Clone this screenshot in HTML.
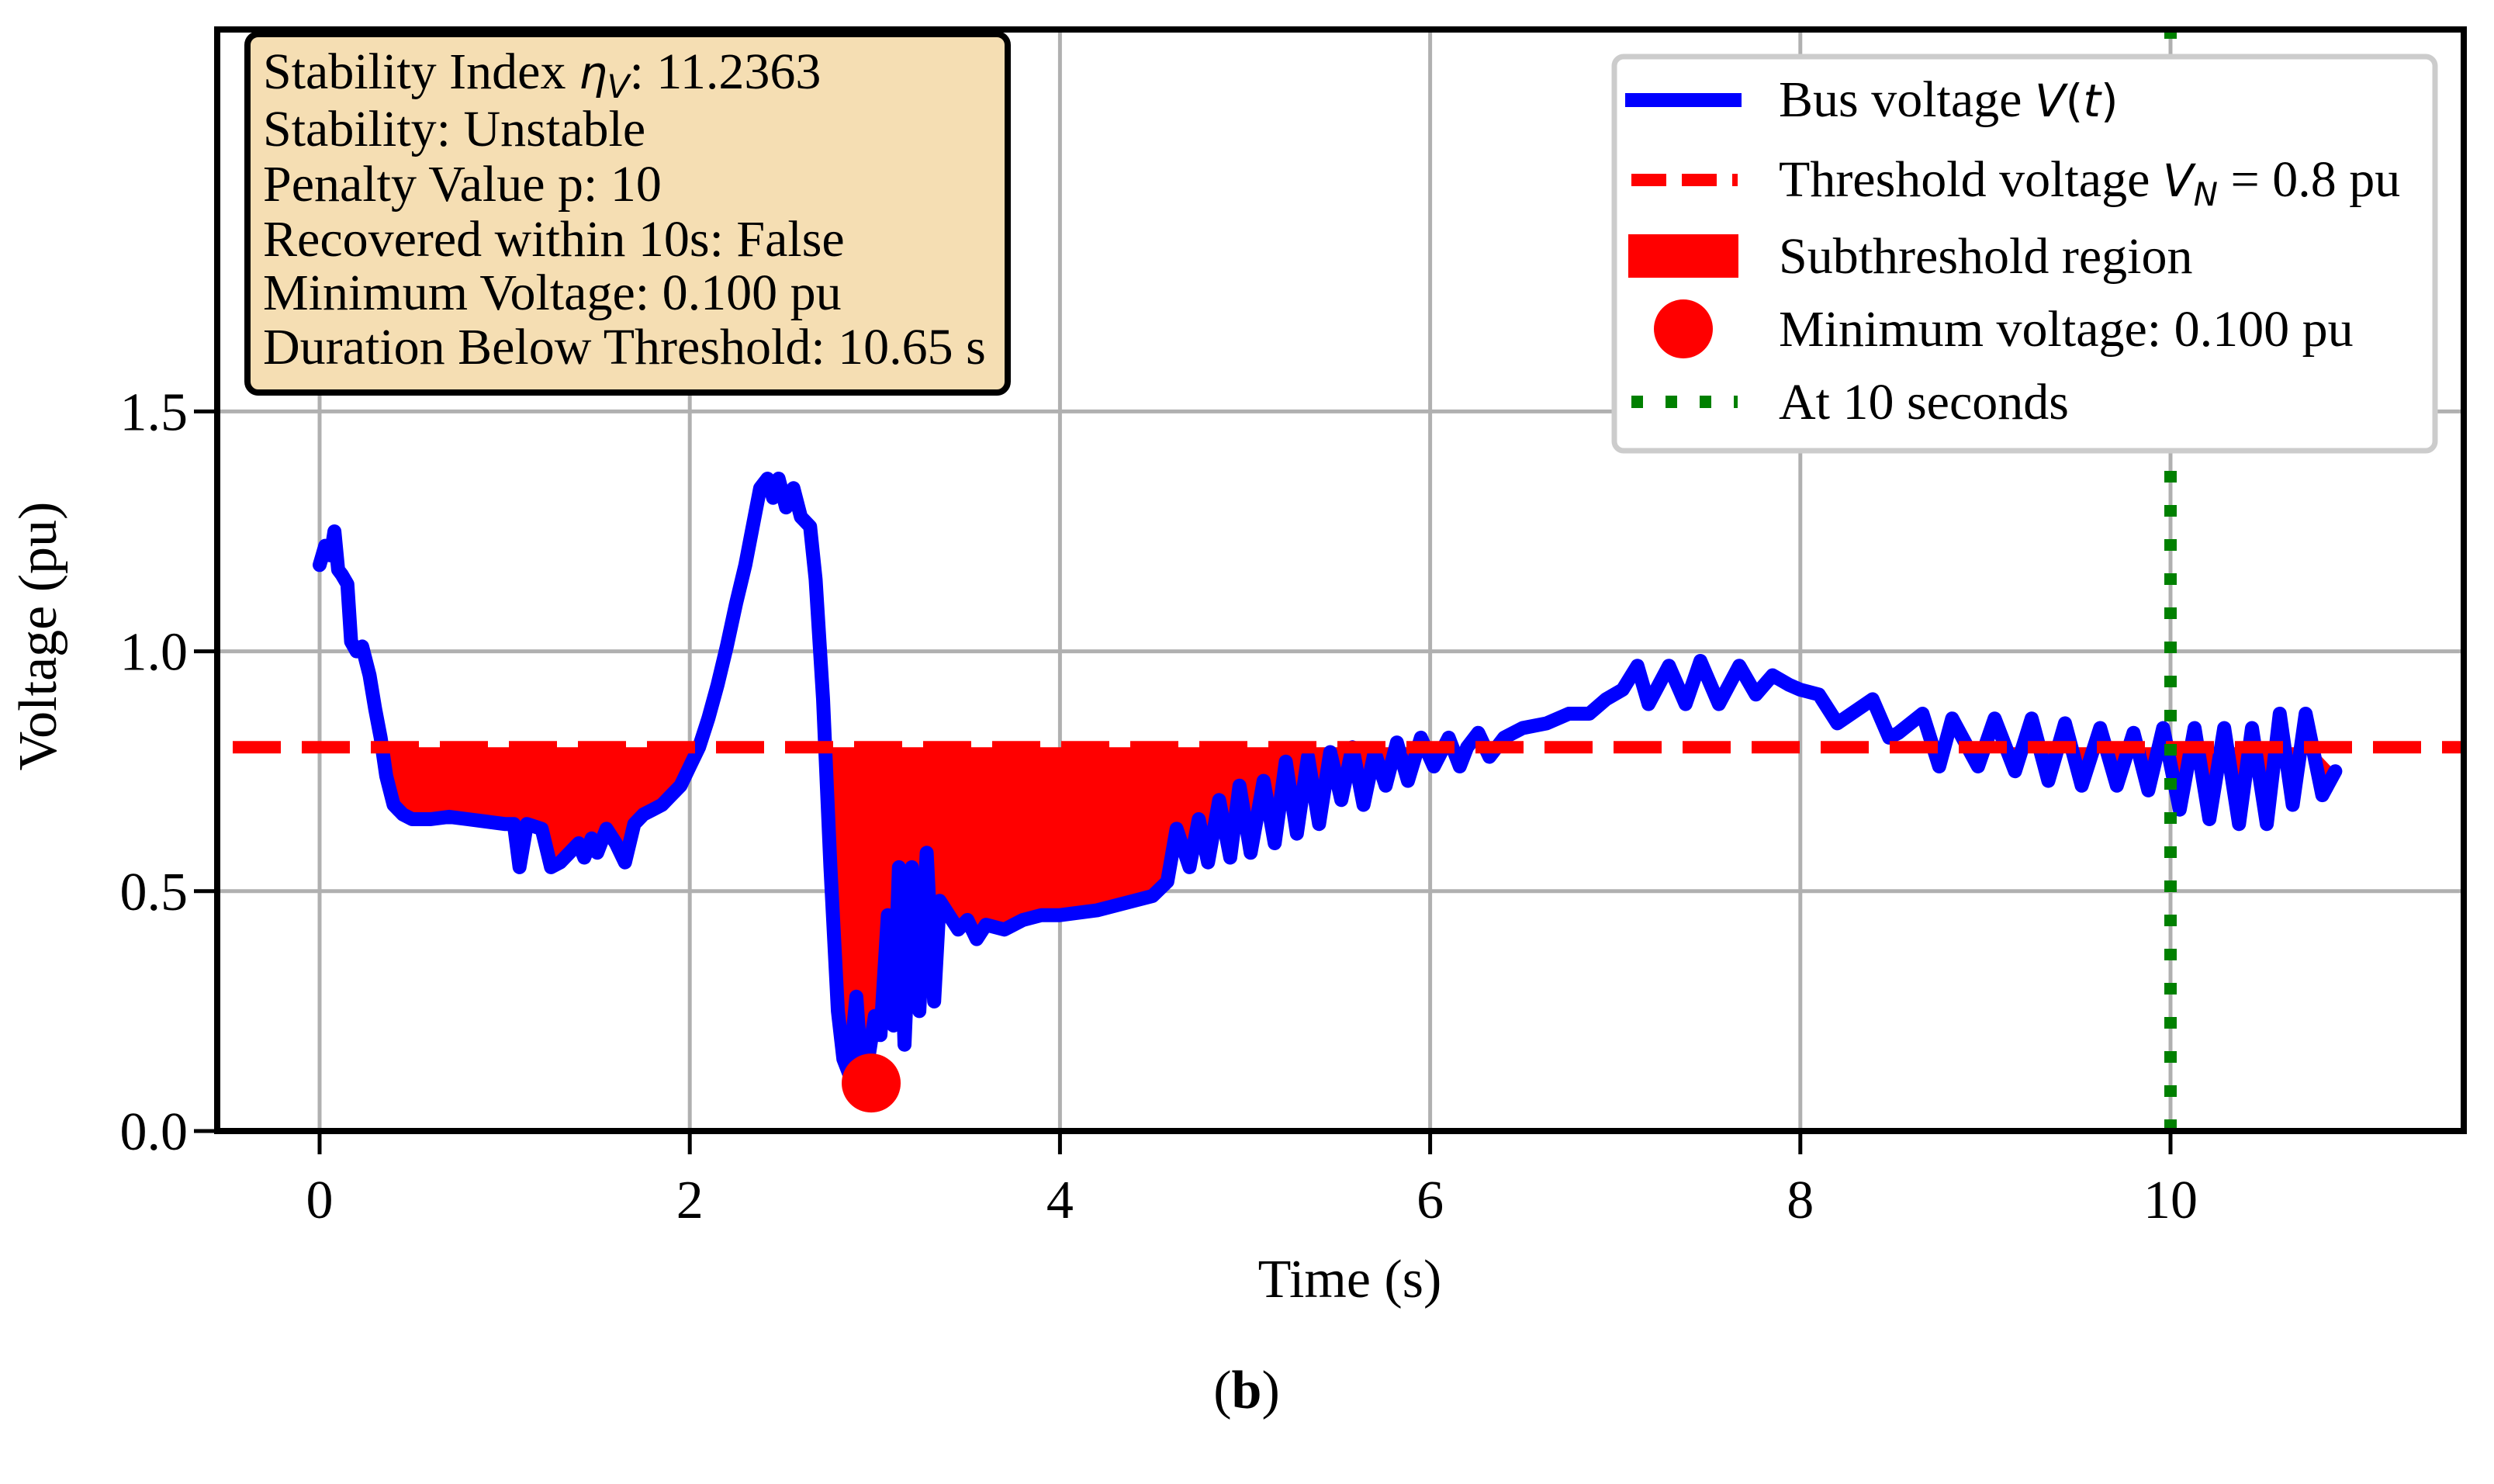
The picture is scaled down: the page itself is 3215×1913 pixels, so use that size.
<!DOCTYPE html>
<html><head><meta charset="utf-8"><style>
html,body{margin:0;padding:0;background:#fff;}
svg{display:block;font-family:"Liberation Serif",serif;}
</style></head><body>
<svg id="chart" width="3215" height="1913" viewBox="0 0 3215 1913" xmlns="http://www.w3.org/2000/svg">
<defs><clipPath id="plotclip"><rect x="280" y="38" width="2896" height="1420"/></clipPath></defs>
<g id="grid"></g>
<g id="marks" clip-path="url(#plotclip)"></g>
<g id="axes"></g>
<text x="1740" y="1672" font-size="70" text-anchor="middle">Time (s)</text>
<text x="0" y="0" font-size="70" text-anchor="middle" transform="translate(72,820) rotate(-90)">Voltage (pu)</text>
<text x="1607" y="1815" font-size="70" text-anchor="middle">(<tspan font-weight="bold">b</tspan>)</text>
<g>
<rect x="319" y="44" width="980" height="462" rx="14" fill="#f5deb3" stroke="#000" stroke-width="8"/>
<g font-size="66">
<text x="339" y="114">Stability Index <tspan font-family="DejaVu Sans" font-style="italic" font-size="58">η</tspan><tspan font-family="DejaVu Sans" font-style="italic" font-size="42" dy="12">V</tspan><tspan dy="-12">: 11.2363</tspan></text>
<text x="339" y="188">Stability: Unstable</text>
<text x="339" y="259">Penalty Value p: 10</text>
<text x="339" y="330">Recovered within 10s: False</text>
<text x="339" y="399">Minimum Voltage: 0.100 pu</text>
<text x="339" y="469">Duration Below Threshold: 10.65 s</text>
</g></g>
<g>
<rect x="2081" y="73" width="1058" height="508" rx="12" fill="#fff" stroke="#cccccc" stroke-width="7"/>
<line x1="2095" y1="129" x2="2245" y2="129" stroke="#0000ff" stroke-width="18"/>
<line x1="2103" y1="232" x2="2240" y2="232" stroke="#ff0000" stroke-width="16" stroke-dasharray="45 20"/>
<rect x="2099" y="302" width="142" height="56" fill="#ff0000"/>
<circle cx="2170" cy="424" r="38" fill="#ff0000"/>
<line x1="2103" y1="518" x2="2240" y2="518" stroke="#008000" stroke-width="16" stroke-dasharray="15 29"/>
<g font-size="66">
<text x="2293" y="150">Bus voltage <tspan font-family="DejaVu Sans" font-style="italic" font-size="58">V</tspan><tspan font-family="DejaVu Sans" font-size="58">(</tspan><tspan font-family="DejaVu Sans" font-style="italic" font-size="58">t</tspan><tspan font-family="DejaVu Sans" font-size="58">)</tspan></text>
<text x="2293" y="253">Threshold voltage <tspan font-family="DejaVu Sans" font-style="italic" font-size="58">V</tspan><tspan font-family="DejaVu Sans" font-style="italic" font-size="42" dy="12">N</tspan><tspan dy="-12"> = 0.8 pu</tspan></text>
<text x="2293" y="352">Subthreshold region</text>
<text x="2293" y="446">Minimum voltage: 0.100 pu</text>
<text x="2293" y="540">At 10 seconds</text>
</g></g>
<script>
const timeValues = [0,0.03,0.06,0.08,0.1,0.12,0.15,0.17,0.2,0.23,0.27,0.3,0.33,0.36,0.4,0.45,0.5,0.6,0.7,0.8,0.9,1.0,1.05,1.08,1.12,1.2,1.25,1.3,1.35,1.4,1.43,1.47,1.5,1.55,1.6,1.65,1.7,1.75,1.8,1.85,1.9,1.95,2.0,2.05,2.1,2.15,2.2,2.25,2.3,2.35,2.38,2.42,2.45,2.48,2.52,2.56,2.6,2.65,2.68,2.72,2.76,2.8,2.83,2.86,2.9,2.93,2.96,3.0,3.03,3.07,3.1,3.13,3.16,3.2,3.24,3.28,3.32,3.35,3.4,3.45,3.5,3.55,3.6,3.7,3.8,3.9,4.0,4.2,4.4,4.5,4.58,4.63,4.7,4.75,4.8,4.86,4.92,4.97,5.03,5.1,5.16,5.22,5.28,5.34,5.4,5.46,5.52,5.58,5.64,5.7,5.76,5.82,5.88,5.95,6.02,6.1,6.16,6.2,6.26,6.32,6.4,6.5,6.63,6.75,6.86,6.95,7.04,7.12,7.18,7.29,7.38,7.46,7.56,7.67,7.76,7.85,7.94,8.0,8.1,8.2,8.39,8.48,8.53,8.66,8.75,8.82,8.96,9.05,9.16,9.25,9.34,9.43,9.52,9.62,9.71,9.8,9.88,9.96,10.05,10.13,10.21,10.29,10.37,10.44,10.52,10.59,10.66,10.73,10.82,10.89,10.97,11.0];
const voltageValues = [1.18,1.22,1.20,1.25,1.17,1.16,1.14,1.02,1.00,1.01,0.95,0.88,0.82,0.74,0.68,0.66,0.65,0.65,0.655,0.65,0.645,0.64,0.64,0.55,0.64,0.63,0.55,0.56,0.58,0.60,0.57,0.61,0.58,0.63,0.60,0.56,0.64,0.66,0.67,0.68,0.70,0.72,0.76,0.80,0.86,0.93,1.01,1.10,1.18,1.28,1.34,1.36,1.32,1.36,1.30,1.34,1.28,1.26,1.15,0.90,0.55,0.25,0.15,0.12,0.28,0.12,0.14,0.24,0.20,0.45,0.22,0.55,0.18,0.55,0.25,0.58,0.27,0.48,0.45,0.42,0.44,0.40,0.43,0.42,0.44,0.45,0.45,0.46,0.48,0.49,0.52,0.63,0.55,0.65,0.56,0.69,0.57,0.72,0.58,0.73,0.60,0.77,0.62,0.78,0.64,0.79,0.69,0.80,0.68,0.79,0.72,0.81,0.73,0.82,0.76,0.82,0.76,0.80,0.83,0.78,0.82,0.84,0.85,0.87,0.87,0.90,0.92,0.97,0.89,0.97,0.89,0.98,0.89,0.97,0.91,0.95,0.93,0.92,0.91,0.85,0.90,0.82,0.83,0.87,0.76,0.86,0.76,0.86,0.75,0.86,0.73,0.85,0.72,0.84,0.72,0.83,0.71,0.84,0.67,0.84,0.65,0.84,0.64,0.84,0.64,0.87,0.68,0.87,0.70,0.75];
const thresholdValue = [0.8];
const minimumPoint = [2.98, 0.1];
const markerTime = [10];
const xTickValues = [0,2,4,6,8,10];
const yTickValues = [0.0,0.5,1.0,1.5];
const yTickLabels = ["0.0","0.5","1.0","1.5"];

const NS = "http://www.w3.org/2000/svg";
const L = 280, R = 3176, T = 38, B = 1458;
const X = t => 412 + t * 238.6;
const Y = v => 1458 - v * 618.4;
function mk(parent, tag, attrs){ const e = document.createElementNS(NS, tag); for (const k in attrs) e.setAttribute(k, attrs[k]); parent.appendChild(e); return e; }
const grid = document.getElementById('grid'), marks = document.getElementById('marks'), axes = document.getElementById('axes');

xTickValues.forEach(t => {
  const g = mk(grid, 'line', {x1:X(t), x2:X(t), y1:T, y2:B, stroke:'#b0b0b0', 'stroke-width':5});
  
  
  const tk = mk(axes, 'line', {x1:X(t), x2:X(t), y1:B, y2:B+30, stroke:'#000', 'stroke-width':5});
  
  
  const lb = mk(axes, 'text', {x:X(t), y:1570, 'font-size':70, 'text-anchor':'middle'});
  lb.textContent = String(t);
  
  
});
yTickValues.forEach((v, i) => {
  const g = mk(grid, 'line', {x1:L, x2:R, y1:Y(v), y2:Y(v), stroke:'#b0b0b0', 'stroke-width':5});
  
  
  const tk = mk(axes, 'line', {x1:L-30, x2:L, y1:Y(v), y2:Y(v), stroke:'#000', 'stroke-width':5});
  
  
  const lb = mk(axes, 'text', {x:L-38, y:Y(v)+24, 'font-size':70, 'text-anchor':'end'});
  lb.textContent = yTickLabels[i];
  
  
});

// subthreshold fill: one polygon per contiguous region below threshold
const th = thresholdValue[0];
let segs = [], cur = null;
for (let i = 0; i < timeValues.length; i++) {
  const t = timeValues[i], v = voltageValues[i];
  if (i > 0) {
    const t0 = timeValues[i-1], v0 = voltageValues[i-1];
    if ((v0 < th) !== (v < th)) {
      const tc = t0 + (th - v0) * (t - t0) / (v - v0);
      if (cur) { cur.push([tc, th]); segs.push(cur); cur = null; }
      else { cur = [[tc, th]]; }
    }
  }
  if (v < th) { if (!cur) cur = [[t, th]]; cur.push([t, v]); }
}
if (cur) { cur.push([timeValues[timeValues.length-1], th]); segs.push(cur); }
segs.forEach(s => {
  const pts = s.map(p => X(p[0]).toFixed(1) + ',' + Y(p[1]).toFixed(1)).join(' ');
  const poly = mk(marks, 'polygon', {points: pts, fill:'#ff0000'});
  
  
});

const linePts = timeValues.map((t, i) => X(t).toFixed(1) + ',' + Y(voltageValues[i]).toFixed(1)).join(' ');
const line = mk(marks, 'polyline', {points: linePts, fill:'none', stroke:'#0000ff', 'stroke-width':18, 'stroke-linejoin':'round', 'stroke-linecap':'round'});



const thl = mk(marks, 'line', {x1:L, x2:R, y1:Y(th), y2:Y(th), stroke:'#ff0000', 'stroke-width':16, 'stroke-dasharray':'62 27', 'stroke-dashoffset':'-20'});



const vl = mk(marks, 'line', {x1:X(markerTime[0]), x2:X(markerTime[0]), y1:B, y2:T, stroke:'#008000', 'stroke-width':16, 'stroke-dasharray':'15 29'});



const mp = mk(marks, 'circle', {cx:X(minimumPoint[0]), cy:Y(minimumPoint[1]), r:38, fill:'#ff0000'});



const frame = mk(axes, 'rect', {x:L, y:T, width:R-L, height:B-T, fill:'none', stroke:'#000', 'stroke-width':8});


</script>
</svg>
</body></html>
